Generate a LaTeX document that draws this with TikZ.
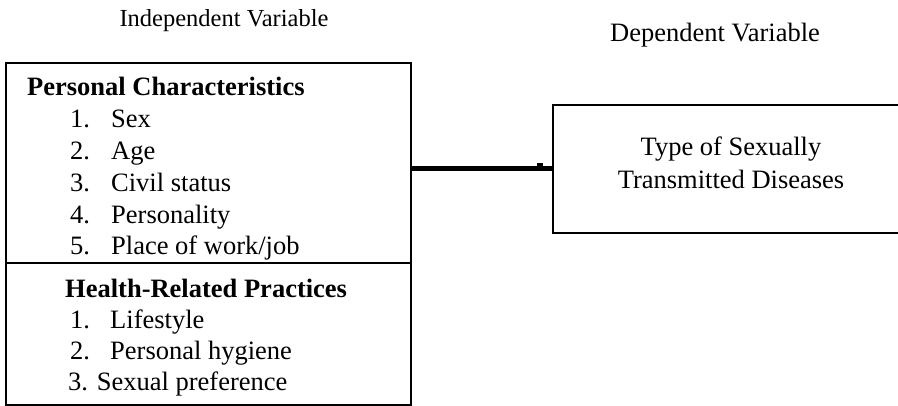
\documentclass[tikz,border=0pt]{standalone}
\usepackage{fontspec}
\setmainfont{Liberation Serif}
\usetikzlibrary{positioning}

\tikzset{
  varbox/.style={draw, line width=2pt, rectangle, inner sep=0pt, anchor=north west},
  txt/.style={inner sep=0pt, anchor=base west, font=\fontsize{26.5}{31}\selectfont},
}

\begin{document}
\begin{tikzpicture}[x=1pt,y=-1pt]
  \useasboundingbox (0,0) rectangle (898,406);
  \clip (0,0) rectangle (898,406);
  % headings
  \node[txt, anchor=base, font=\fontsize{24.5}{30}\selectfont] (indep) at (224,27) {Independent Variable};
  \node[txt, anchor=base] (dep) at (715,42) {Dependent Variable};
  % boxes
  \node[varbox, minimum width=405pt, minimum height=200pt] (pc) at (5,62) {};
  \node[varbox, minimum width=405pt, minimum height=142pt] (hr) at (5,262) {};
  \node[varbox, minimum width=360pt, minimum height=128pt] (std) at (552,104) {};
  % personal characteristics
  \node[txt, font=\fontsize{26.5}{31}\selectfont\bfseries] (pc-head) at (27,96) {Personal Characteristics};
  \foreach \n/\what [count=\i] in {1./Sex, 2./Age, 3./Civil status, 4./Personality, 5./{Place of work/job}}
  {
    \node[txt] (pc-num-\i) at (70,96+31.8*\i) {\n};
    \node[txt] (pc-item-\i) at (111,96+31.8*\i) {\what};
  }
  % health-related practices
  \node[txt, font=\fontsize{26.5}{31}\selectfont\bfseries] (hr-head) at (65,298) {Health-Related Practices};
  \foreach \n/\what [count=\i] in {1./Lifestyle, 2./Personal hygiene}
  {
    \node[txt] (hr-num-\i) at (70,298+31*\i) {\n};
    \node[txt] (hr-item-\i) at (110,298+31*\i) {\what};
  }
  \node[txt] (hr-item-3) at (68,391) {3. Sexual preference};
  % dependent variable
  \node[txt, anchor=base] (std-l1) at (731,156) {Type of Sexually};
  \node[txt, anchor=base] (std-l2) at (731,189) {Transmitted Diseases};
  % connector
  \draw[line width=5pt] (std.west) -- (std.west -| pc.east);
  \fill (537,163) rectangle (543,166);
\end{tikzpicture}
\end{document}
